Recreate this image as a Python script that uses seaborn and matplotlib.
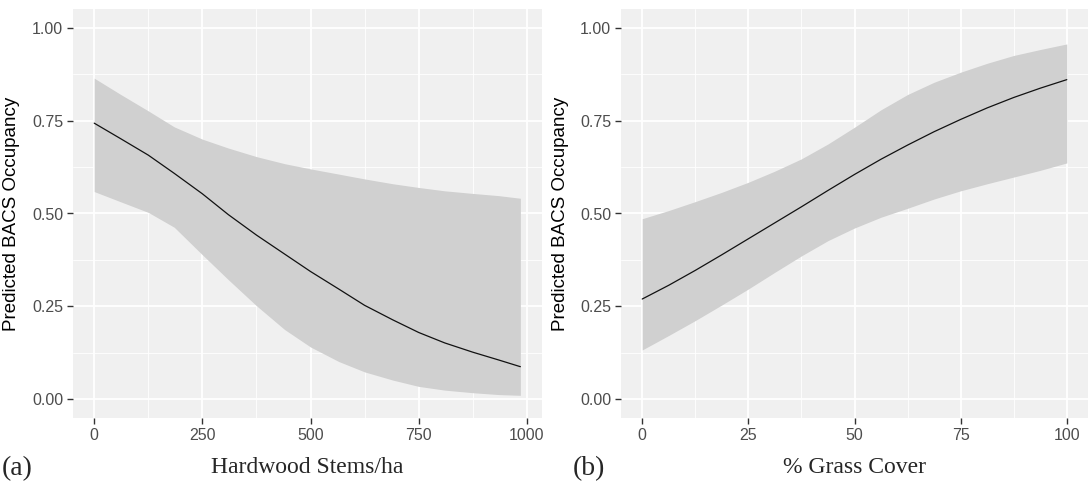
import numpy as np
import matplotlib
matplotlib.use("Agg")
import matplotlib.pyplot as plt
from matplotlib.ticker import MultipleLocator, FixedLocator
import seaborn as sns

# panel (a): hardwood stems per ha
stems = [0, 60, 125, 185, 250, 310, 375, 440, 500, 565, 625, 690, 750, 810, 875, 935, 985]
stems_fit = [0.743, 0.702, 0.657, 0.608, 0.553, 0.497, 0.442, 0.391, 0.344,
             0.297, 0.253, 0.214, 0.180, 0.152, 0.127, 0.106, 0.088]
stems_upper = [0.864, 0.821, 0.776, 0.733, 0.700, 0.676, 0.653, 0.634, 0.620,
               0.606, 0.593, 0.580, 0.570, 0.561, 0.554, 0.548, 0.541]
stems_lower = [0.559, 0.532, 0.503, 0.463, 0.389, 0.322, 0.252, 0.188, 0.141,
               0.102, 0.074, 0.052, 0.035, 0.025, 0.018, 0.013, 0.011]

# panel (b): % grass cover
grass = [0, 6.25, 12.5, 18.75, 25, 31.25, 37.5, 43.75, 50,
         56.25, 62.5, 68.75, 75, 81.25, 87.5, 93.75, 100]
grass_fit = [0.270, 0.307, 0.347, 0.389, 0.432, 0.475, 0.518, 0.562, 0.605,
             0.646, 0.684, 0.720, 0.753, 0.784, 0.812, 0.837, 0.860]
grass_upper = [0.486, 0.508, 0.532, 0.557, 0.584, 0.614, 0.647, 0.687, 0.732,
               0.779, 0.820, 0.853, 0.880, 0.904, 0.925, 0.941, 0.956]
grass_lower = [0.133, 0.172, 0.212, 0.254, 0.297, 0.342, 0.386, 0.427, 0.461,
               0.490, 0.514, 0.539, 0.561, 0.580, 0.598, 0.616, 0.636]

y_ticks = [0.00, 0.25, 0.50, 0.75, 1.00]
y_labels = ["0.00", "0.25", "0.50", "0.75", "1.00"]

sns.set_style("darkgrid", {"axes.facecolor": "#F0F0F0", "grid.color": "white"})
plt.rcParams["font.family"] = ["Liberation Sans", "DejaVu Sans"]

fig = plt.figure(figsize=(10.88, 4.92), dpi=100)
ax_a = fig.add_axes([73 / 1088, 1 - 418 / 492, 469 / 1088, 409 / 492])
ax_b = fig.add_axes([621 / 1088, 1 - 418 / 492, 467 / 1088, 409 / 492])

panels = [
    (ax_a, stems, stems_fit, stems_lower, stems_upper, [0, 250, 500, 750, 1000],
     (-49, 1035), 125, "Hardwood Stems/ha", "(a)", 2),
    (ax_b, grass, grass_fit, grass_lower, grass_upper, [0, 25, 50, 75, 100],
     (-5, 105), 12.5, "% Grass Cover", "(b)", 573),
]

for ax, x, fit, lo, hi, xt, xlim, minor, xlab, tag, tag_x in panels:
    ax.fill_between(x, lo, hi, color="#D0D0D0", linewidth=0, zorder=2)
    sns.lineplot(x=x, y=fit, ax=ax, color="#111111", linewidth=0.9, zorder=3)
    ax.set_xlim(*xlim)
    ax.set_ylim(-0.05, 1.05)
    ax.set_xticks(xt)
    ax.set_xticklabels([str(v) for v in xt])
    ax.set_yticks(y_ticks)
    ax.set_yticklabels(y_labels)
    ax.xaxis.set_minor_locator(MultipleLocator(minor))
    ax.yaxis.set_minor_locator(FixedLocator([0.125, 0.375, 0.625, 0.875]))
    ax.grid(which="major", color="white", linewidth=1.3)
    ax.grid(which="minor", color="white", linewidth=0.6)
    ax.tick_params(which="major", length=4, width=1, color="#333333",
                   labelcolor="#4D4D4D", labelsize=11.5, pad=3)
    ax.tick_params(which="minor", length=0)
    ax.tick_params(axis="x", bottom=True)
    ax.tick_params(axis="y", left=True)
    for s in ax.spines.values():
        s.set_visible(False)
    ax.set_ylabel("Predicted BACS Occupancy", fontsize=13.5, color="black")
    ax.yaxis.set_label_coords(-0.112, 0.5)
    ax.set_xlabel(xlab, fontsize=17, family=["Liberation Serif", "DejaVu Serif"])
    ax.xaxis.label.set_va("center")
    ax.xaxis.set_label_coords(0.5, -0.122)
    fig.text(tag_x / 1088, 1 - 469 / 492, tag, fontsize=20, ha="left", va="center",
             family=["Liberation Serif", "DejaVu Serif"])

fig.savefig("out.png", dpi=100)
